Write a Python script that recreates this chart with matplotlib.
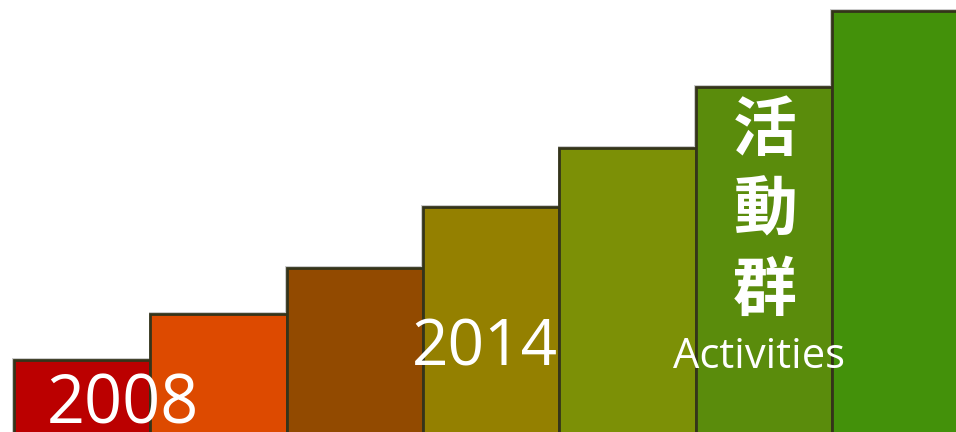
import matplotlib
matplotlib.use("Agg")
from matplotlib import pyplot as plt

# step heights (arbitrary units)
steps = [0, 1, 2, 3, 4, 5, 6]
heights = [72, 118, 164, 225, 284, 345, 421]
colors = ["#BB0000", "#DD4A00", "#924A00", "#948000", "#7C9006", "#5A8C0C", "#43910A"]

year_start = "2008"
year_mid = "2014"
title_zh = ["活", "動", "群"]
title_en = "Activities"

W, H = 956, 432
fig = plt.figure(figsize=(W / 100, H / 100), dpi=100)
ax = fig.add_axes([0, 0, 1, 1])

bw = 136.3
base = -8
ax.bar(steps, [h - base for h in heights], width=1.0, align="edge", bottom=base,
       color=colors, edgecolor="#34341A", linewidth=2.0, zorder=2)
# soft shadow behind the bars
ax.bar([s - 0.012 for s in steps], [h - base + 2 for h in heights], width=1.0,
       align="edge", bottom=base, color="#9A9A9A", alpha=0.5, linewidth=0, zorder=1)

ax.set_xlim(-14 / bw, (W - 14) / bw)
ax.set_ylim(0, H)
ax.axis("off")

def px(x, y):
    return x / W, 1 - y / H

fig.text(*px(123, 423), year_start, color="white", fontsize=48, family="Open Sans",
         ha="center", va="baseline")
fig.text(*px(485, 365), year_mid, color="white", fontsize=46, family="Open Sans",
         ha="center", va="baseline")
for ch, yc in zip(title_zh, [131, 211, 291]):
    fig.text(*px(765, yc), ch, color="white", fontsize=46, fontweight="semibold",
             family=["Noto Sans CJK TC", "DejaVu Sans"], ha="center", va="center")
fig.text(*px(759, 368), title_en, color="white", fontsize=30, family="Open Sans",
         ha="center", va="baseline")

fig.savefig("out.png", dpi=100)
